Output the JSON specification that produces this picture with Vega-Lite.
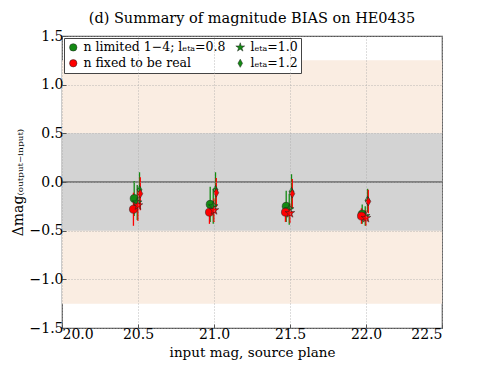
{
  "$schema": "https://vega.github.io/schema/vega-lite/v6.json",
  "width": 380,
  "height": 292,
  "autosize": "none",
  "padding": {"left": 62, "top": 36, "right": 49, "bottom": 37},
  "config": {
    "font": "DejaVu Serif",
    "view": {"stroke": "#555", "strokeWidth": 1.2},
    "axis": {"labelFont": "DejaVu Serif", "titleFont": "DejaVu Serif", "labelColor": "#000", "titleColor": "#000", "titleFontWeight": "normal"},
    "legend": {"labelFont": "DejaVu Serif", "orient": "top-left", "offset": 2, "columns": 2, "columnPadding": 8, "rowPadding": 3,
               "labelFontSize": 12.5, "labelColor": "#000", "labelLimit": 300,
               "symbolSize": 55, "symbolStrokeWidth": 0.5, "symbolStrokeColor": "#222",
               "fillColor": "#fff", "strokeColor": "#444", "padding": 3, "cornerRadius": 0}
  },
  "title": {"text": "(d) Summary of magnitude BIAS on HE0435", "font": "DejaVu Serif", "fontSize": 14.5, "fontWeight": "normal", "offset": 3, "color": "#000"},
  "datasets": {
    "bands": [
      {"lo": -1.25, "hi": 1.25, "band": "outer"},
      {"lo": -0.5, "hi": 0.5, "band": "inner"}
    ],
    "pts": [
      {"x": 20.475, "y": -0.17, "lo": -0.35, "hi": 0.01, "n": "limited", "key": "n limited 1−4; lₑₜₐ=0.8"},
      {"x": 20.495, "y": -0.21, "lo": -0.39, "hi": -0.03, "n": "limited", "key": "lₑₜₐ=1.0"},
      {"x": 20.51, "y": -0.08, "lo": -0.26, "hi": 0.1, "n": "limited", "key": "lₑₜₐ=1.2"},
      {"x": 20.975, "y": -0.23, "lo": -0.41, "hi": -0.05, "n": "limited", "key": "n limited 1−4; lₑₜₐ=0.8"},
      {"x": 20.995, "y": -0.25, "lo": -0.43, "hi": -0.07, "n": "limited", "key": "lₑₜₐ=1.0"},
      {"x": 21.01, "y": -0.08, "lo": -0.26, "hi": 0.1, "n": "limited", "key": "lₑₜₐ=1.2"},
      {"x": 21.475, "y": -0.25, "lo": -0.41, "hi": -0.09, "n": "limited", "key": "n limited 1−4; lₑₜₐ=0.8"},
      {"x": 21.495, "y": -0.28, "lo": -0.44, "hi": -0.12, "n": "limited", "key": "lₑₜₐ=1.0"},
      {"x": 21.51, "y": -0.1, "lo": -0.28, "hi": 0.08, "n": "limited", "key": "lₑₜₐ=1.2"},
      {"x": 21.975, "y": -0.33, "lo": -0.43, "hi": -0.23, "n": "limited", "key": "n limited 1−4; lₑₜₐ=0.8"},
      {"x": 21.995, "y": -0.35, "lo": -0.45, "hi": -0.25, "n": "limited", "key": "lₑₜₐ=1.0"},
      {"x": 22.01, "y": -0.19, "lo": -0.31, "hi": -0.07, "n": "limited", "key": "lₑₜₐ=1.2"},
      {"x": 20.47, "y": -0.28, "lo": -0.45, "hi": -0.11, "n": "fixed", "key": "n fixed to be real"},
      {"x": 20.5, "y": -0.24, "lo": -0.4, "hi": -0.08, "n": "fixed", "key": "lₑₜₐ=1.0"},
      {"x": 20.515, "y": -0.12, "lo": -0.29, "hi": 0.05, "n": "fixed", "key": "lₑₜₐ=1.2"},
      {"x": 20.97, "y": -0.31, "lo": -0.43, "hi": -0.19, "n": "fixed", "key": "n fixed to be real"},
      {"x": 21.0, "y": -0.29, "lo": -0.41, "hi": -0.17, "n": "fixed", "key": "lₑₜₐ=1.0"},
      {"x": 21.015, "y": -0.11, "lo": -0.26, "hi": 0.04, "n": "fixed", "key": "lₑₜₐ=1.2"},
      {"x": 21.47, "y": -0.31, "lo": -0.41, "hi": -0.21, "n": "fixed", "key": "n fixed to be real"},
      {"x": 21.5, "y": -0.32, "lo": -0.42, "hi": -0.22, "n": "fixed", "key": "lₑₜₐ=1.0"},
      {"x": 21.515, "y": -0.12, "lo": -0.27, "hi": 0.03, "n": "fixed", "key": "lₑₜₐ=1.2"},
      {"x": 21.97, "y": -0.35, "lo": -0.43, "hi": -0.27, "n": "fixed", "key": "n fixed to be real"},
      {"x": 22.0, "y": -0.37, "lo": -0.45, "hi": -0.29, "n": "fixed", "key": "lₑₜₐ=1.0"},
      {"x": 22.015, "y": -0.2, "lo": -0.32, "hi": -0.08, "n": "fixed", "key": "lₑₜₐ=1.2"}
    ],
    "zero": [{"y": 0}]
  },
  "layer": [
    {
      "data": {"name": "bands"},
      "mark": {"type": "rect"},
      "encoding": {
        "y": {"field": "lo", "type": "quantitative", "scale": {"domain": [-1.5, 1.5], "nice": false, "zero": false},
              "axis": {"values": [-1.5, -1.0, -0.5, 0.0, 0.5, 1.0, 1.5], "format": ".1f", "labelFontSize": 14, "tickSize": -4, "tickColor": "#555", "domain": false, "labelPadding": 3, "gridColor": "#aaa", "gridDash": [1, 2], "gridWidth": 0.8, "zindex": 1,
                       "title": "Δmag₍ₒᵤₜₚᵤₜ₋ᵢₙₚᵤₜ₎", "titleFontSize": 14, "titlePadding": 4}},
        "y2": {"field": "hi"},
        "fill": {"field": "band", "type": "nominal", "scale": {"domain": ["outer", "inner"], "range": ["#faede2", "#d3d3d3"]}, "legend": null}
      }
    },
    {
      "data": {"name": "zero"},
      "mark": {"type": "rule", "color": "#666", "strokeWidth": 1.5},
      "encoding": {"y": {"field": "y", "type": "quantitative"}}
    },
    {
      "data": {"name": "pts"},
      "mark": {"type": "rule", "strokeWidth": 1.3},
      "encoding": {
        "x": {"field": "x", "type": "quantitative", "scale": {"domain": [20, 22.5], "nice": false, "zero": false},
              "axis": {"values": [20.0, 20.5, 21.0, 21.5, 22.0, 22.5], "format": ".1f", "labelFontSize": 14, "tickSize": -4, "tickColor": "#555", "domain": false, "labelPadding": 3, "gridColor": "#aaa", "gridDash": [1, 2], "gridWidth": 0.8, "zindex": 1,
                       "title": "input mag, source plane", "titleFontSize": 13.5, "titlePadding": 4}},
        "y": {"field": "lo", "type": "quantitative"},
        "y2": {"field": "hi"},
        "stroke": {"field": "n", "type": "nominal", "scale": {"domain": ["limited", "fixed"], "range": ["#138a13", "#ff0000"]}, "legend": null}
      }
    },
    {
      "data": {"name": "pts"},
      "transform": [{"filter": "datum.n == 'limited'"}],
      "mark": {"type": "point", "filled": true, "stroke": "#222", "strokeWidth": 0.5, "opacity": 1},
      "encoding": {
        "x": {"field": "x", "type": "quantitative"},
        "y": {"field": "y", "type": "quantitative"},
        "color": {"field": "key", "type": "nominal", "title": null,
          "scale": {"domain": ["n limited 1−4; lₑₜₐ=0.8", "n fixed to be real", "lₑₜₐ=1.0", "lₑₜₐ=1.2"], "range": ["#138a13", "#ff0000", "#138a13", "#138a13"]}},
        "size": {"value": 65},
        "shape": {"field": "key", "type": "nominal", "title": null,
                  "scale": {"domain": ["n limited 1−4; lₑₜₐ=0.8", "n fixed to be real", "lₑₜₐ=1.0", "lₑₜₐ=1.2"],
                            "range": ["circle", "circle", "M0,-1.25L0.281,-0.386L1.189,-0.386L0.454,0.148L0.735,1.011L0,0.478L-0.735,1.011L-0.454,0.148L-1.189,-0.386L-0.281,-0.386Z", "M0,-1.1L0.62,0L0,1.1L-0.62,0Z"]}}
      }
    },
    {
      "data": {"name": "pts"},
      "transform": [{"filter": "datum.n == 'fixed'"}],
      "mark": {"type": "point", "filled": true, "stroke": "#222", "strokeWidth": 0.5, "opacity": 1, "color": "#ff0000"},
      "encoding": {
        "x": {"field": "x", "type": "quantitative"},
        "y": {"field": "y", "type": "quantitative"},
        "size": {"value": 65},
        "shape": {"field": "key", "type": "nominal", "title": null}
      }
    }
  ]
}
